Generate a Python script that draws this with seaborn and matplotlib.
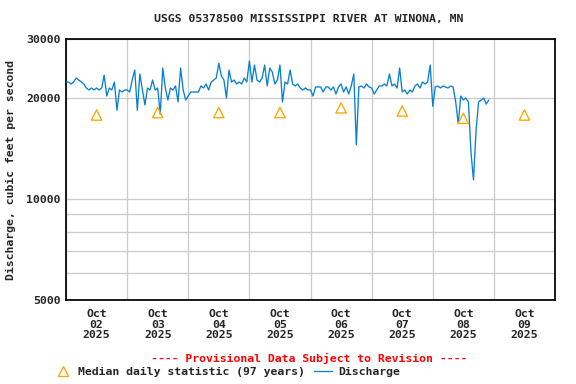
import numpy as np
import pandas as pd
import matplotlib
matplotlib.use("Agg")
import matplotlib.pyplot as plt
import matplotlib.dates as mdates
import matplotlib.ticker as mticker
from matplotlib.lines import Line2D
import seaborn as sns

# hourly discharge, cfs (one list per day)
oct02 = [22330, 22330, 22030, 22330, 22950, 22640, 22330, 22030, 21430, 21140, 21430, 21140,
         21430, 21140, 21430, 23400, 20280, 21430, 21140, 22330, 18400, 21140, 20850, 21140]
oct03 = [21140, 20850, 22640, 24240, 18400, 23590, 21140, 19070, 21430, 21140, 22640, 21140,
         21430, 17900, 24580, 21430, 19740, 21430, 21140, 21730, 19470, 24580, 21140, 19740]
oct04 = [20280, 20850, 20850, 20850, 20850, 21730, 21430, 22030, 21140, 22330, 22640, 22950,
         25400, 23270, 22640, 20000, 24240, 22330, 22640, 22030, 22330, 22030, 22950, 22330]
oct05 = [25800, 22330, 25090, 22640, 22330, 22950, 25090, 21730, 24580, 23910, 22030, 22640,
         25090, 19470, 22330, 22030, 24240, 22030, 21730, 22030, 21430, 21140, 21430, 21140]
oct06 = [21140, 20280, 21580, 21580, 21580, 20850, 21580, 21580, 21140, 21580, 20560, 21580,
         22030, 20850, 21580, 20560, 21730, 23590, 14500, 21580, 21730, 21430, 22030, 21580]
oct07 = [21430, 20560, 21140, 21730, 21730, 22030, 21730, 23590, 21730, 22030, 21430, 24580,
         20850, 21140, 20560, 21140, 20850, 21730, 22030, 21430, 22330, 22030, 22330, 25090]
oct08 = [18900, 21580, 21730, 21430, 21730, 21580, 21430, 21730, 21580, 19470, 16800, 20280,
         19740, 20000, 19470, 13800, 11400, 16000, 19470, 19740, 20000, 19200, 19740]

# median daily statistic (97 years), Oct 2 - Oct 9
median_days = ["2025-10-02", "2025-10-03", "2025-10-04", "2025-10-05",
               "2025-10-06", "2025-10-07", "2025-10-08", "2025-10-09"]
median_vals = [17800, 18100, 18100, 18100, 18700, 18300, 17400, 17800]

flow = oct02 + oct03 + oct04 + oct05 + oct06 + oct07 + oct08
df = pd.DataFrame({
    "time": pd.date_range("2025-10-02 00:00", periods=len(flow), freq="h"),
    "flow": flow,
})
med = pd.DataFrame({
    "time": pd.to_datetime(median_days) + pd.Timedelta(hours=12),
    "flow": median_vals,
})

sns.set_style("white")
plt.rcParams["font.family"] = ["DejaVu Sans Mono"]
plt.rcParams["font.weight"] = "bold"
fs = 8.6

fig = plt.figure(figsize=(6, 4), dpi=96)
ax = fig.add_axes([66 / 576, 1 - 300 / 384, 489 / 576, 261 / 384])

blue = "#0a80d0"
orange = "#ffa500"

sns.lineplot(data=df, x="time", y="flow", ax=ax, color=blue, lw=1.0, zorder=3)
sns.scatterplot(data=med, x="time", y="flow", ax=ax, marker="^", s=60,
                facecolors="none", edgecolor=orange, linewidth=1.0, zorder=4)

ax.set_yscale("log")
ax.set_ylim(5000, 30000)
ax.set_xlim(pd.Timestamp("2025-10-02"), pd.Timestamp("2025-10-10"))

ax.yaxis.set_major_locator(mticker.FixedLocator([5000, 10000, 20000, 30000]))
ax.yaxis.set_major_formatter(mticker.FuncFormatter(lambda v, p: f"{v:.0f}"))
ax.yaxis.set_minor_locator(mticker.FixedLocator([6000, 7000, 8000, 9000]))
ax.yaxis.set_minor_formatter(mticker.NullFormatter())

ax.xaxis.set_major_locator(mdates.HourLocator(byhour=[12]))
ax.xaxis.set_major_formatter(mdates.DateFormatter("%b\n%d\n%Y"))
ax.xaxis.set_minor_locator(mdates.DayLocator())

ax.grid(True, which="major", axis="y", color="#cccccc", lw=1.0)
ax.grid(True, which="minor", axis="both", color="#cccccc", lw=1.0)
ax.set_axisbelow(True)

ax.tick_params(axis="x", which="both", length=0, pad=7, labelsize=fs)
ax.tick_params(axis="y", which="both", direction="in", length=4, width=1,
               labelsize=fs, pad=4)
for lbl in ax.get_xticklabels():
    lbl.set_linespacing(1.05)
for s in ax.spines.values():
    s.set_color("black")
    s.set_linewidth(1.3)

ax.set_xlabel("")
ax.set_ylabel("Discharge, cubic feet per second", fontsize=fs, fontweight="bold", labelpad=8)

fig.text(309 / 576, 1 - 19 / 384, "USGS 05378500 MISSISSIPPI RIVER AT WINONA, MN",
         ha="center", va="center", fontsize=fs, fontweight="bold")
fig.text(309 / 576, 1 - 358 / 384, "---- Provisional Data Subject to Revision ----",
         ha="center", va="center", fontsize=fs, fontweight="bold", color="#ff0000")

handles = [
    Line2D([0], [0], marker="^", ls="none", markersize=8, markerfacecolor="none",
           markeredgecolor=orange, markeredgewidth=1.0),
    Line2D([0], [0], color=blue, lw=1.0),
]
labels = ["Median daily statistic (97 years)", "Discharge"]
fig.legend(handles, labels, ncol=2, loc="center left",
           bbox_to_anchor=(54 / 576, 1 - 372 / 384), frameon=False,
           handlelength=1.6, handletextpad=0.5, columnspacing=0.8,
           borderpad=0, borderaxespad=0, prop={"size": fs, "weight": "bold"})

fig.savefig("out.png", dpi=96)
